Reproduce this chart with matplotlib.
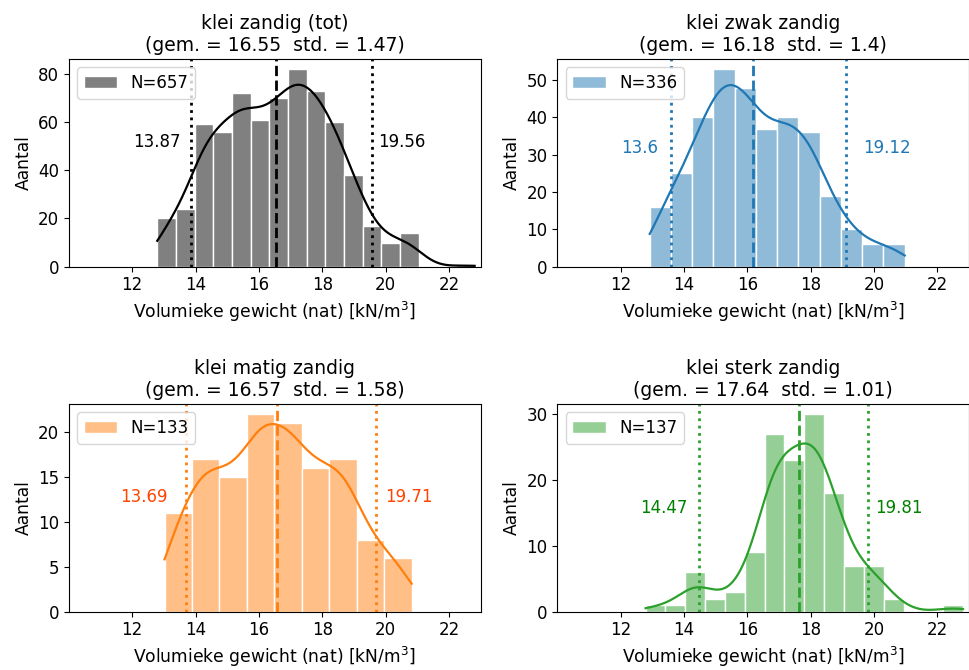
import numpy as np
import matplotlib
matplotlib.use('Agg')
import matplotlib.pyplot as plt

# histogram counts per group, bins run evenly from the smallest to the largest value
titles = ['klei zandig (tot)', 'klei zwak zandig', 'klei matig zandig', 'klei sterk zandig']
n_samples = [657, 336, 133, 137]
means = [16.55, 16.18, 16.57, 17.64]
stds = [1.47, 1.4, 1.58, 1.01]
lower = [13.87, 13.6, 13.69, 14.47]
upper = [19.56, 19.12, 19.71, 19.81]
data_min = [12.79, 12.92, 13.02, 12.79]
data_max = [22.81, 20.97, 20.82, 22.81]

counts_tot = [20, 24, 59, 56, 72, 61, 70, 82, 73, 60, 38, 17, 10, 14, 0, 0, 1]
counts_zwak = [16, 25, 40, 53, 48, 37, 40, 36, 19, 10, 6, 6]
counts_matig = [11, 17, 15, 22, 21, 16, 17, 8, 6]
counts_sterk = [1, 1, 6, 2, 3, 9, 27, 23, 30, 18, 7, 7, 2, 0, 0, 1]
counts = [counts_tot, counts_zwak, counts_matig, counts_sterk]

bar_colors = ['#808080', '#8fbbd9', '#ffbf86', '#95cf95']
line_colors = ['black', '#1f77b4', '#ff7f0e', '#2ca02c']
text_colors = ['black', '#1f77b4', '#ff4500', 'green']
# kde bandwidth adjust per panel
bw_adjust = [1.3, 1.2, 1.0, 1.4]
# text y (axes fraction), offset left of lower line, offset right of upper line
label_pos = [(0.60, 0.35, 0.20), (0.57, 0.42, 0.53), (0.55, 0.56, 0.26), (0.50, 0.37, 0.24)]


def kde_curve(edges, cnt, std, adjust):
    centers = (edges[:-1] + edges[1:]) / 2
    cnt = np.asarray(cnt, dtype=float)
    n = cnt.sum()
    bw = adjust * std * n ** (-0.2)
    grid = np.linspace(edges[0], edges[-1], 300)
    dens = (cnt[None, :] * np.exp(-0.5 * ((grid[:, None] - centers[None, :]) / bw) ** 2)).sum(axis=1)
    dens /= n * bw * np.sqrt(2 * np.pi)
    return grid, dens * n * (edges[1] - edges[0])


fig, axes = plt.subplots(2, 2, figsize=(9.7, 6.7), dpi=100)
fig.subplots_adjust(left=0.071, right=0.999, bottom=0.087, top=0.912, wspace=0.186, hspace=0.66)

for i, ax in enumerate(axes.flat):
    edges = np.linspace(data_min[i], data_max[i], len(counts[i]) + 1)
    ax.bar(edges[:-1], counts[i], width=np.diff(edges), align='edge', color=bar_colors[i],
           edgecolor='white', linewidth=1, label='N=%d' % n_samples[i])
    gx, gy = kde_curve(edges, counts[i], stds[i], bw_adjust[i])
    ax.plot(gx, gy, color=line_colors[i], lw=1.6)

    ax.axvline(means[i], color=line_colors[i], ls='--', lw=2)
    ax.axvline(lower[i], color=line_colors[i], ls=':', lw=2)
    ax.axvline(upper[i], color=line_colors[i], ls=':', lw=2)

    ty, dl, dr = label_pos[i]
    ax.text(lower[i] - dl, ty, str(lower[i]), color=text_colors[i], ha='right', va='center',
            fontsize=12, transform=ax.get_xaxis_transform())
    ax.text(upper[i] + dr, ty, str(upper[i]), color=text_colors[i], ha='left', va='center',
            fontsize=12, transform=ax.get_xaxis_transform())

    ax.set_xlim(10, 23)
    ax.set_xticks([12, 14, 16, 18, 20, 22])
    ax.tick_params(labelsize=12)
    ax.set_title('%s\n(gem. = %s  std. = %s)' % (titles[i], means[i], stds[i]), fontsize=13.5)
    ax.set_xlabel('Volumieke gewicht (nat) [kN/m$^3$]', fontsize=12.3)
    ax.set_ylabel('Aantal', fontsize=12.3)
    ax.legend(loc='upper left', fontsize=12)

fig.savefig('out.png')
